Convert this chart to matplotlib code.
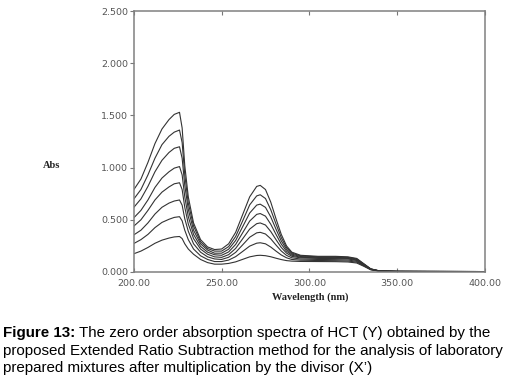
import matplotlib
matplotlib.use("Agg")
from matplotlib import pyplot as plt

# wavelength grid (nm) and absorbance of the 8 laboratory mixtures
wavelength = [200, 204, 208, 212, 216, 220, 223, 226, 227.5, 229, 231, 234, 238, 242,
              246, 250, 254, 258, 262, 266, 270, 272, 275, 278, 281, 284, 287, 290, 295,
              305, 315, 322, 327, 331, 335, 340, 350, 370, 400]

abs1 = [0.79, 0.89, 1.05, 1.23, 1.37, 1.46, 1.51, 1.53, 1.38, 1.02, 0.72, 0.47, 0.31, 0.24,
        0.215, 0.22, 0.27, 0.38, 0.55, 0.72, 0.82, 0.83, 0.79, 0.67, 0.51, 0.36, 0.25, 0.19, 0.16,
        0.15, 0.15, 0.145, 0.13, 0.08, 0.03, 0.01, 0.006, 0.005, 0.004]
abs2 = [0.70, 0.79, 0.93, 1.09, 1.22, 1.30, 1.34, 1.36, 1.24, 0.93, 0.66, 0.44, 0.29, 0.225,
        0.20, 0.20, 0.243, 0.34, 0.49, 0.643, 0.729, 0.74, 0.704, 0.597, 0.46, 0.329, 0.234, 0.181, 0.154,
        0.145, 0.145, 0.14, 0.125, 0.077, 0.029, 0.01, 0.006, 0.005, 0.004]
abs3 = [0.62, 0.70, 0.82, 0.96, 1.07, 1.145, 1.185, 1.20, 1.09, 0.83, 0.60, 0.40, 0.27, 0.21,
        0.18, 0.18, 0.218, 0.302, 0.434, 0.565, 0.641, 0.65, 0.619, 0.528, 0.41, 0.298, 0.217, 0.171, 0.148,
        0.14, 0.14, 0.135, 0.12, 0.074, 0.028, 0.01, 0.006, 0.005, 0.004]
abs4 = [0.52, 0.59, 0.69, 0.81, 0.90, 0.96, 0.995, 1.01, 0.93, 0.72, 0.53, 0.36, 0.245, 0.19,
        0.165, 0.16, 0.192, 0.264, 0.376, 0.488, 0.552, 0.56, 0.535, 0.458, 0.36, 0.267, 0.199, 0.161, 0.141,
        0.135, 0.133, 0.13, 0.115, 0.071, 0.027, 0.009, 0.006, 0.005, 0.004]
abs5 = [0.44, 0.50, 0.59, 0.69, 0.765, 0.815, 0.845, 0.855, 0.79, 0.62, 0.46, 0.32, 0.22, 0.17,
        0.145, 0.14, 0.166, 0.226, 0.318, 0.411, 0.463, 0.47, 0.45, 0.388, 0.31, 0.235, 0.181, 0.15, 0.135,
        0.13, 0.128, 0.125, 0.11, 0.068, 0.026, 0.009, 0.005, 0.005, 0.004]
abs6 = [0.356, 0.40, 0.47, 0.555, 0.62, 0.66, 0.68, 0.69, 0.64, 0.51, 0.39, 0.27, 0.19, 0.145,
        0.125, 0.12, 0.141, 0.188, 0.26, 0.333, 0.375, 0.38, 0.364, 0.318, 0.258, 0.201, 0.159, 0.136, 0.124,
        0.12, 0.118, 0.115, 0.102, 0.064, 0.025, 0.009, 0.005, 0.005, 0.004]
abs7 = [0.273, 0.31, 0.36, 0.425, 0.475, 0.505, 0.523, 0.53, 0.49, 0.40, 0.31, 0.22, 0.155, 0.12,
        0.10, 0.10, 0.114, 0.147, 0.197, 0.248, 0.276, 0.28, 0.27, 0.239, 0.20, 0.163, 0.136, 0.12, 0.113,
        0.11, 0.108, 0.105, 0.094, 0.06, 0.023, 0.008, 0.005, 0.004, 0.004]
abs8 = [0.175, 0.20, 0.235, 0.275, 0.305, 0.325, 0.336, 0.34, 0.32, 0.27, 0.22, 0.17, 0.12, 0.09,
        0.075, 0.075, 0.082, 0.097, 0.121, 0.145, 0.158, 0.16, 0.156, 0.146, 0.132, 0.119, 0.109, 0.104, 0.101,
        0.10, 0.099, 0.096, 0.086, 0.055, 0.021, 0.008, 0.005, 0.004, 0.004]
spectra = [abs1, abs2, abs3, abs4, abs5, abs6, abs7, abs8]

xticks = [200, 250, 300, 350, 400]
yticks = [0.0, 0.5, 1.0, 1.5, 2.0, 2.5]

caption_bold = 'Figure 13:'
caption_lines = [' The zero order absorption spectra of HCT (Y) obtained by the',
                 'proposed Extended Ratio Subtraction method for the analysis of laboratory',
                 'prepared mixtures after multiplication by the divisor (X\u2019)']

fig = plt.figure(figsize=(5.13, 3.82), dpi=100)
ax = fig.add_axes([0.261, 0.288, 0.684, 0.683])

for s in spectra:
    ax.plot(wavelength, s, color='#333333', linewidth=0.8)

ax.set_xlim(200, 400)
ax.set_ylim(0, 2.5)
ax.set_xticks(xticks)
ax.set_xticklabels(['%.2f' % t for t in xticks])
ax.set_yticks(yticks)
ax.set_yticklabels(['%.3f' % t for t in yticks])
ax.tick_params(axis='x', direction='in', top=True, length=3, width=0.8,
               colors='#777777', labelcolor='#555555', labelsize=6.8, pad=5)
ax.tick_params(axis='y', direction='out', length=3, width=0.8,
               colors='#777777', labelcolor='#555555', labelsize=6.8, pad=1)
for sp in ax.spines.values():
    sp.set_color('#808080')
    sp.set_linewidth(1.1)

fig.text(52/513, 1 - 165/382, 'Abs', family='Liberation Serif', weight='bold',
         fontsize=7.5, ha='center', va='center', color='#222222')
fig.text(310/513, 1 - 297/382, 'Wavelength (nm)', family='Liberation Serif', weight='bold',
         fontsize=7.5, ha='center', va='center', color='#222222')

# caption, first words bold
cap_size = 10.9
x0 = 3/513
y_first = 1 - 337/382
t = fig.text(x0, y_first, caption_bold, family='Liberation Sans', weight='bold',
             fontsize=cap_size, ha='left', va='baseline')
r = fig.canvas.get_renderer()
bb = t.get_window_extent(renderer=r)
fig.text(bb.x1/fig.bbox.width, y_first, caption_lines[0], family='Liberation Sans',
         fontsize=cap_size, ha='left', va='baseline')
for i, line in enumerate(caption_lines[1:]):
    fig.text(x0, y_first - (i + 1)*17.5/382, line, family='Liberation Sans',
             fontsize=cap_size, ha='left', va='baseline')

fig.savefig('out.png', dpi=100)
